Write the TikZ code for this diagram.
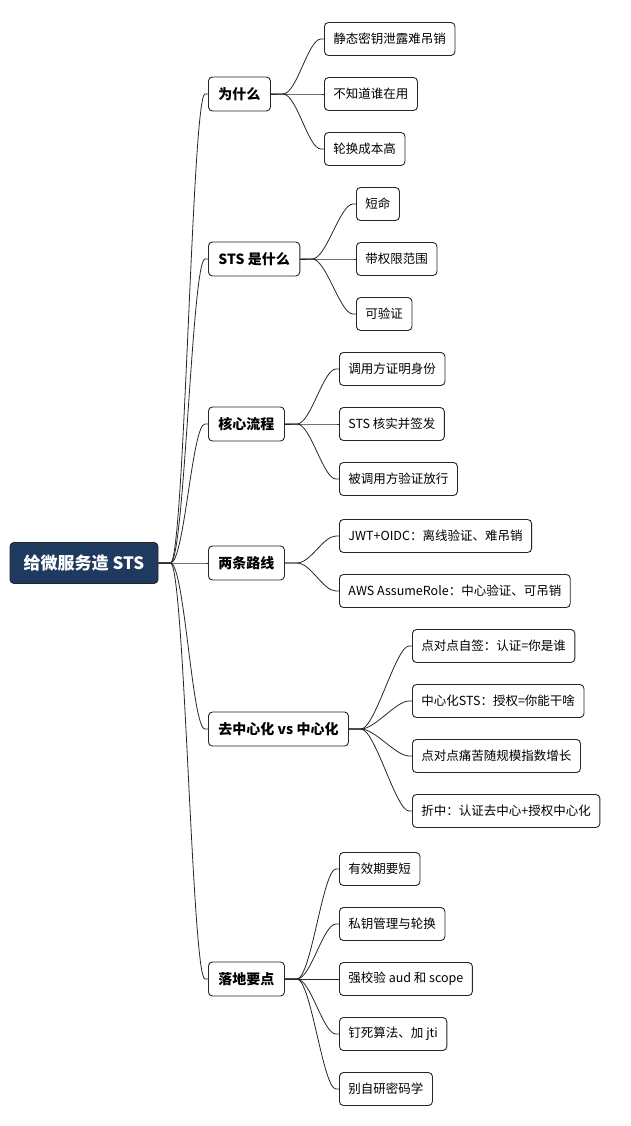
\documentclass[tikz,border=0pt]{standalone}
\usepackage{fontspec}
\setmainfont{Noto Sans CJK SC}
\usetikzlibrary{calc}
\begin{document}
\begin{tikzpicture}[x=1pt,y=-1pt,
  box/.style={draw=black!85,line width=0.9pt,rounded corners=4pt,fill=white,inner xsep=9pt,minimum height=33pt,font=\fontsize{12.5}{14}\selectfont},
  br/.style={box,font=\fontsize{14}{16}\selectfont\bfseries,minimum height=34pt,inner xsep=10pt},
  leaf/.style={box,anchor=west},
  link/.style={draw=black!85,line width=0.8pt,to path={-- ++(12,0) .. controls +(14,0) and ([xshift=-16]\tikztotarget) .. ([xshift=-3]\tikztotarget) -- (\tikztotarget)}}]
\useasboundingbox (0,0) rectangle (630,1126);
\node[draw=black!85,line width=0.9pt,rounded corners=4pt,fill={rgb,255:red,31;green,58;blue,95},text=white,font=\fontsize{17}{20}\selectfont\bfseries,minimum width=148pt,minimum height=41pt] (root) at (84,563) {给微服务造 STS};
\node[br,anchor=west] (b1) at (208,94) {为什么};
\node[br,anchor=west] (b2) at (208,259) {STS 是什么};
\node[br,anchor=west] (b3) at (208,424) {核心流程};
\node[br,anchor=west] (b4) at (208,563) {两条路线};
\node[br,anchor=west] (b5) at (208,729) {去中心化 vs 中心化};
\node[br,anchor=west] (b6) at (208,979) {落地要点};
\foreach \b in {b1,b2,b3,b4,b5,b6} \draw[link] (root.east) to (\b.west);
\node[leaf] (l11) at (324,39) {静态密钥泄露难吊销};
\node[leaf] (l12) at (324,94) {不知道谁在用};
\node[leaf] (l13) at (324,149) {轮换成本高};
\node[leaf] (l21) at (356,204) {短命};
\node[leaf] (l22) at (356,259) {带权限范围};
\node[leaf] (l23) at (356,314) {可验证};
\node[leaf] (l31) at (339,369) {调用方证明身份};
\node[leaf] (l32) at (339,424) {STS 核实并签发};
\node[leaf] (l33) at (339,479) {被调用方验证放行};
\node[leaf] (l41) at (339,536) {JWT+OIDC：离线验证、难吊销};
\node[leaf] (l42) at (339,591) {AWS AssumeRole：中心验证、可吊销};
\node[leaf] (l51) at (412,646) {点对点自签：认证=你是谁};
\node[leaf] (l52) at (412,701) {中心化STS：授权=你能干啥};
\node[leaf] (l53) at (412,756) {点对点痛苦随规模指数增长};
\node[leaf] (l54) at (412,811) {折中：认证去中心+授权中心化};
\node[leaf] (l61) at (339,869) {有效期要短};
\node[leaf] (l62) at (339,924) {私钥管理与轮换};
\node[leaf] (l63) at (339,979) {强校验 aud 和 scope};
\node[leaf] (l64) at (339,1034) {钉死算法、加 jti};
\node[leaf] (l65) at (339,1089) {别自研密码学};
\foreach \l in {l11,l12,l13} \draw[link] (b1.east) to (\l.west);
\foreach \l in {l21,l22,l23} \draw[link] (b2.east) to (\l.west);
\foreach \l in {l31,l32,l33} \draw[link] (b3.east) to (\l.west);
\foreach \l in {l41,l42} \draw[link] (b4.east) to (\l.west);
\foreach \l in {l51,l52,l53,l54} \draw[link] (b5.east) to (\l.west);
\foreach \l in {l61,l62,l63,l64,l65} \draw[link] (b6.east) to (\l.west);
\end{tikzpicture}
\end{document}
